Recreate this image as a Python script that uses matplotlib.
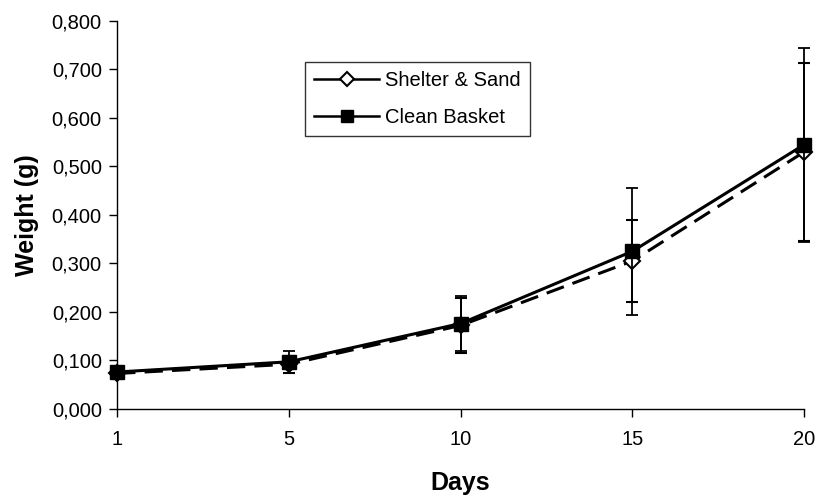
import matplotlib
matplotlib.use("Agg")
import matplotlib.pyplot as plt
from matplotlib.ticker import FuncFormatter, MultipleLocator
from matplotlib.lines import Line2D

days = ["1", "5", "10", "15", "20"]
shelter = [0.073, 0.092, 0.172, 0.305, 0.530]
shelter_err = [0.005, 0.018, 0.057, 0.085, 0.183]
basket = [0.076, 0.097, 0.176, 0.325, 0.545]
basket_err = [0.005, 0.023, 0.056, 0.131, 0.200]

plt.rcParams['font.family'] = ['Liberation Sans', 'DejaVu Sans']

fig = plt.figure(figsize=(8.19, 4.98), dpi=100)
ax = fig.add_axes([0.143, 0.179, 0.839, 0.779])
x = list(range(len(days)))

e1 = ax.errorbar(x, shelter, yerr=shelter_err, color='black', linestyle=(0, (6, 3)),
                 linewidth=2.2, marker='D', markersize=8, markerfacecolor='white',
                 markeredgecolor='black', markeredgewidth=1.5, ecolor='black',
                 elinewidth=1.3, capsize=4.5, capthick=1.3, zorder=3)
e2 = ax.errorbar(x, basket, yerr=basket_err, color='black', linestyle='-',
                 linewidth=2.2, marker='s', markersize=10, markerfacecolor='black',
                 markeredgecolor='black', ecolor='black',
                 elinewidth=1.3, capsize=4.5, capthick=1.3, zorder=4)
for e in (e1, e2):
    for art in e.get_children():
        art.set_clip_on(False)

ax.set_xlim(0, 4)
ax.set_ylim(0, 0.8)
ax.set_xticks(x)
ax.set_xticklabels(days)
ax.yaxis.set_major_locator(MultipleLocator(0.1))
ax.yaxis.set_major_formatter(FuncFormatter(lambda v, p: f"{v:.3f}".replace('.', ',')))
for s in ['top', 'right']:
    ax.spines[s].set_visible(False)
for s in ['left', 'bottom']:
    ax.spines[s].set_linewidth(1.0)
ax.tick_params(axis='both', direction='out', length=6, width=1, labelsize=14.5)
ax.tick_params(axis='x', pad=9)
ax.tick_params(axis='y', pad=5)
ax.set_xlabel('Days', fontsize=18, fontweight='bold', labelpad=16)
ax.set_ylabel('Weight (g)', fontsize=18, fontweight='bold', labelpad=9)

h1 = Line2D([], [], color='black', linestyle='-', linewidth=1.8, marker='D', markersize=7,
            markerfacecolor='white', markeredgecolor='black', markeredgewidth=1.5)
h2 = Line2D([], [], color='black', linestyle='-', linewidth=1.8, marker='s', markersize=8,
            markerfacecolor='black', markeredgecolor='black')
leg = ax.legend([h1, h2], ['Shelter & Sand', 'Clean Basket'], loc='upper left',
                bbox_to_anchor=(0.274, 0.894), fontsize=14.5,
                frameon=True, fancybox=False, edgecolor='black', handlelength=3.2,
                borderpad=0.45, labelspacing=0.9, handletextpad=0.3, borderaxespad=0)
leg.get_frame().set_linewidth(1.0)

fig.savefig('out.png', dpi=100)
